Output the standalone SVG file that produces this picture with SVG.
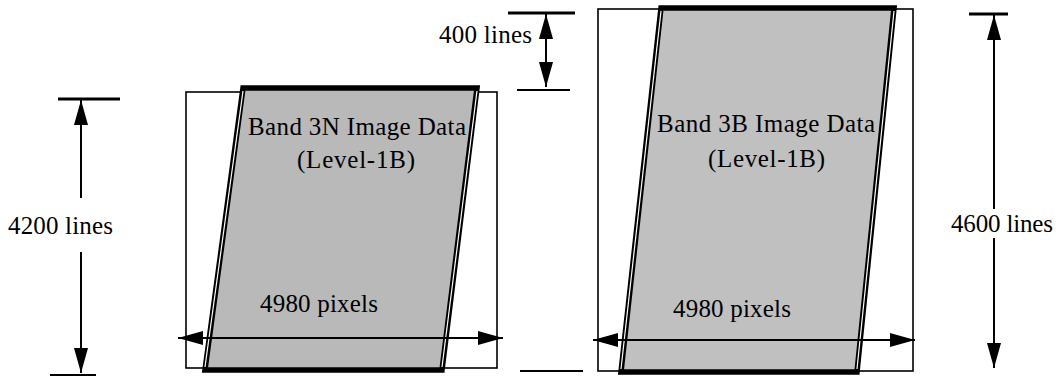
<svg xmlns="http://www.w3.org/2000/svg" width="1064" height="376" viewBox="0 0 1064 376">
<style>
.frame{fill:none;stroke:#000;stroke-width:1.6}
.img{fill:#c0c0c0;stroke:#000;stroke-width:5.5;stroke-linejoin:miter}
.inner{stroke:#fff;stroke-width:1.2}
.dim{stroke:#000;stroke-width:2;fill:none}
.tick{stroke:#000;stroke-width:2.8}
.t{font-family:'Liberation Serif','Times New Roman',serif;font-size:25px;fill:#000}
</style>
<defs>
<marker id="ah" markerUnits="userSpaceOnUse" markerWidth="26" markerHeight="16" refX="25" refY="8" orient="auto-start-reverse" viewBox="0 0 26 16">
<path d="M0,1 L25,8 L0,15 Z" fill="#000"/>
</marker>
</defs>
<g id="band3n">
<rect class="frame" x="186" y="92" width="311" height="276"/>
<polygon class="img" points="243,88 477,88 442,370 205,370" style="fill:#b9b9b9"/>
<line class="inner" x1="243" y1="91" x2="205" y2="367"/>
<line class="inner" x1="477" y1="91" x2="442" y2="367"/>
<text class="t" x="248" y="135" textLength="218" lengthAdjust="spacing">Band 3N Image Data</text>
<text class="t" x="297" y="168" textLength="118" lengthAdjust="spacing">(Level-1B)</text>
<text class="t" x="260" y="312" textLength="118" lengthAdjust="spacing">4980 pixels</text>
</g>
<g id="band3b">
<rect class="frame" x="598" y="9" width="315" height="362"/>
<polygon class="img" points="661,8 894,8 857,372 621,372"/>
<line class="inner" x1="661" y1="11" x2="621" y2="369"/>
<line class="inner" x1="894" y1="11" x2="857" y2="369"/>
<text class="t" x="657" y="132" textLength="218" lengthAdjust="spacing">Band 3B Image Data</text>
<text class="t" x="708" y="167" textLength="117" lengthAdjust="spacing">(Level-1B)</text>
<text class="t" x="673" y="317" textLength="118" lengthAdjust="spacing">4980 pixels</text>
</g>
<g id="dim4200">
<line class="tick" x1="58" y1="99" x2="120" y2="99"/>
<line class="dim" x1="50" y1="375" x2="96" y2="375"/>
<text class="t" x="8" y="234" textLength="105" lengthAdjust="spacing">4200 lines</text>
</g>
<g id="dim400">
<line class="tick" x1="508" y1="13" x2="575" y2="13"/>
<line class="dim" x1="517" y1="90" x2="570" y2="90"/>
<line class="dim" x1="520" y1="371" x2="583" y2="371"/>
<text class="t" x="439" y="43" textLength="93" lengthAdjust="spacing">400 lines</text>
</g>
<g id="dim4600">
<line class="tick" x1="969" y1="14" x2="1008" y2="14"/>
<text class="t" x="951" y="232" textLength="102" lengthAdjust="spacing">4600 lines</text>
</g>
<g id="connectors">
<line class="dim" x1="81" y1="198" x2="81" y2="100" marker-end="url(#ah)"/>
<line class="dim" x1="81" y1="252" x2="81" y2="373" marker-end="url(#ah)"/>
<line class="dim" x1="546" y1="14" x2="546" y2="87" marker-start="url(#ah)" marker-end="url(#ah)"/>
<line class="dim" x1="994" y1="209" x2="994" y2="15" marker-end="url(#ah)"/>
<line class="dim" x1="994" y1="238" x2="994" y2="368" marker-end="url(#ah)"/>
<line class="dim" x1="178" y1="338" x2="503" y2="338" marker-start="url(#ah)" marker-end="url(#ah)"/>
<line class="dim" x1="593" y1="340" x2="915" y2="340" marker-start="url(#ah)" marker-end="url(#ah)"/>
</g>
</svg>
